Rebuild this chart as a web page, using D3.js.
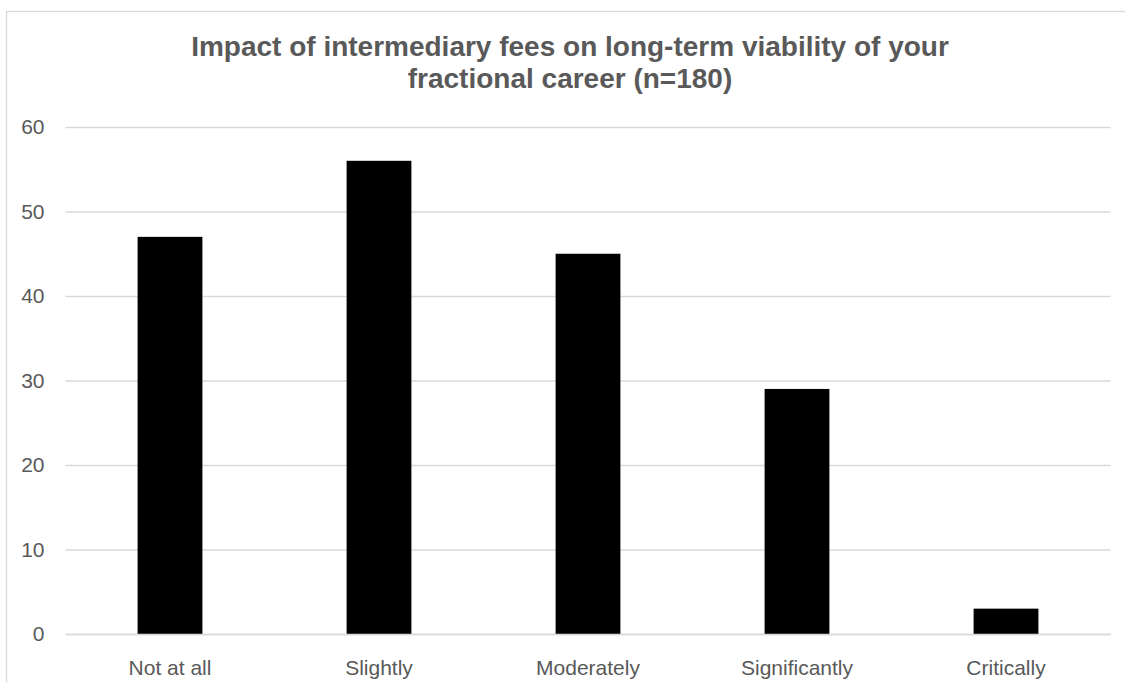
<!DOCTYPE html>
<html>
<head>
<meta charset="utf-8">
<script src="https://cdn.jsdelivr.net/npm/d3@7"></script>
<style>
  html, body { margin: 0; padding: 0; background: #ffffff; }
  svg { display: block; }
</style>
</head>
<body>
<svg id="chart" width="1125" height="682"></svg>
<script>
// Survey responses: perceived impact of intermediary fees
const categories = ["Not at all", "Slightly", "Moderately", "Significantly", "Critically"];
const counts = [47, 56, 45, 29, 3];
const yTicks = [0, 10, 20, 30, 40, 50, 60];
const titleLines = [
  "Impact of intermediary fees on long-term viability of your",
  "fractional career (n=180)"
];

const width = 1125, height = 682;
const margin = { left: 65.5, right: 14.5, top: 127, bottom: 48 };
const font = "'Liberation Sans', Arial, sans-serif";
const grey = "#595959";
const lineGrey = "#d9d9d9";

const svg = d3.select("#chart");

// chart area frame
svg.append("rect")
  .attr("x", 6.5).attr("y", 11.5)
  .attr("width", 1140).attr("height", 700)
  .attr("fill", "#ffffff")
  .attr("stroke", lineGrey)
  .attr("stroke-width", 1.3);

const x = d3.scaleBand()
  .domain(categories)
  .range([margin.left, width - margin.right])
  .paddingInner(0.69)
  .paddingOuter(0.345);

const y = d3.scaleLinear()
  .domain([0, 60])
  .range([height - margin.bottom, margin.top]);

// horizontal gridlines with value labels
const yAxis = d3.axisLeft(y)
  .tickValues(yTicks)
  .tickSize(-(width - margin.left - margin.right))
  .tickPadding(21)
  .tickFormat(d3.format("d"));

const gy = svg.append("g")
  .attr("transform", `translate(${margin.left},0)`)
  .call(yAxis);
gy.select(".domain").remove();
gy.selectAll(".tick line")
  .attr("stroke", lineGrey)
  .attr("stroke-width", 1.3);
gy.selectAll(".tick text")
  .attr("fill", grey)
  .style("font-family", font)
  .style("font-size", "21px");

// bars
svg.append("g")
  .selectAll("rect")
  .data(categories.map((c, i) => ({ c, v: counts[i] })))
  .join("rect")
  .attr("x", d => x(d.c))
  .attr("y", d => y(d.v))
  .attr("width", x.bandwidth())
  .attr("height", d => y(0) - y(d.v))
  .attr("fill", "#000000");

// category axis
const xAxis = d3.axisBottom(x).tickSize(0).tickPadding(26);
const gx = svg.append("g")
  .attr("transform", `translate(0,${y(0)})`)
  .call(xAxis);
gx.select(".domain")
  .attr("stroke", lineGrey)
  .attr("stroke-width", 1.3);
gx.selectAll(".tick text")
  .attr("fill", grey)
  .style("font-family", font)
  .style("font-size", "21px");

// title
svg.append("text")
  .attr("x", 570)
  .attr("y", 56)
  .attr("text-anchor", "middle")
  .attr("fill", grey)
  .style("font-family", font)
  .style("font-size", "28px")
  .style("font-weight", "bold")
  .selectAll("tspan")
  .data(titleLines)
  .join("tspan")
  .attr("x", 570)
  .attr("dy", (d, i) => i === 0 ? 0 : 32)
  .text(d => d);
</script>
</body>
</html>
